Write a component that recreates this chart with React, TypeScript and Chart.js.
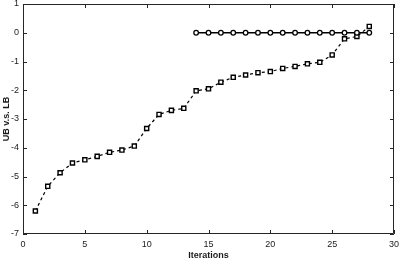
import React, { useEffect, useRef } from "react";
import { Chart, registerables } from "chart.js";

Chart.register(...registerables);

const iterationsUB: number[] = [1, 2, 3, 4, 5, 6, 7, 8, 9, 10, 11, 12, 13, 14, 15, 16, 17, 18, 19, 20, 21, 22, 23, 24, 25, 26, 27, 28];
const ubVsLb: number[] = [-6.2, -5.34, -4.87, -4.53, -4.42, -4.3, -4.16, -4.08, -3.94, -3.33, -2.84, -2.7, -2.63, -2.02, -1.95, -1.72, -1.55, -1.47, -1.39, -1.35, -1.24, -1.17, -1.08, -1.03, -0.77, -0.21, -0.13, 0.22];
const iterationsZero: number[] = [14, 15, 16, 17, 18, 19, 20, 21, 22, 23, 24, 25, 26, 27, 28];
const zeroLine: number[] = [0, 0, 0, 0, 0, 0, 0, 0, 0, 0, 0, 0, 0, 0, 0];

const xTicks: number[] = [0, 5, 10, 15, 20, 25, 30];
const yTicks: number[] = [1, 0, -1, -2, -3, -4, -5, -6, -7];

const AXIS_COLOR = "#262626";
const FONT = "'Liberation Sans', Arial, sans-serif";

const boxTicksPlugin = {
  id: "boxTicks",
  afterDatasetsDraw(chart: any) {
    const { ctx, chartArea, scales } = chart;
    const { left, right, top, bottom } = chartArea;
    const len = 4;
    ctx.save();
    ctx.strokeStyle = AXIS_COLOR;
    ctx.lineWidth = 1;
    ctx.beginPath();
    ctx.rect(left + 0.5, top + 0.5, right - left - 1, bottom - top - 1);
    xTicks.forEach((v) => {
      const px = Math.round(scales.x.getPixelForValue(v)) + 0.5;
      ctx.moveTo(px, bottom);
      ctx.lineTo(px, bottom - len);
      ctx.moveTo(px, top);
      ctx.lineTo(px, top + len);
    });
    yTicks.forEach((v) => {
      const py = Math.round(scales.y.getPixelForValue(v)) + 0.5;
      ctx.moveTo(left, py);
      ctx.lineTo(left + len, py);
      ctx.moveTo(right, py);
      ctx.lineTo(right - len, py);
    });
    ctx.stroke();
    ctx.restore();
  },
};

export default function App() {
  const canvasRef = useRef<HTMLCanvasElement | null>(null);

  useEffect(() => {
    document.body.style.margin = "0";
    const canvas = canvasRef.current;
    if (!canvas) return;
    const chart = new Chart(canvas, {
      type: "line",
      data: {
        datasets: [
          {
            label: "UB",
            data: iterationsZero.map((x, i) => ({ x, y: zeroLine[i] })),
            borderColor: "#000000",
            borderWidth: 1.4,
            pointStyle: "circle",
            pointRadius: 2.3,
            pointBorderWidth: 1.3,
            pointBorderColor: "#000000",
            pointBackgroundColor: "#ffffff",
          },
          {
            label: "UB v.s. LB",
            data: iterationsUB.map((x, i) => ({ x, y: ubVsLb[i] })),
            borderColor: "#000000",
            borderWidth: 1.2,
            borderDash: [3, 3],
            pointStyle: "rect",
            pointRadius: 2.9,
            pointBorderWidth: 1.4,
            pointBorderColor: "#000000",
            pointBackgroundColor: "#ffffff",
          },
        ],
      },
      options: {
        animation: false,
        responsive: false,
        maintainAspectRatio: false,
        layout: { padding: { top: 4, right: 5, left: 0, bottom: 0 }, autoPadding: false },
        plugins: { legend: { display: false }, tooltip: { enabled: false } },
        scales: {
          x: {
            type: "linear",
            min: 0,
            max: 30,
            afterBuildTicks: (scale: any) => {
              scale.ticks = xTicks.map((v) => ({ value: v }));
            },
            afterFit: (scale: any) => {
              scale.height = 27;
              scale.paddingLeft = 0;
              scale.paddingRight = 0;
            },
            grid: { display: false, drawTicks: false },
            border: { display: false },
            ticks: {
              color: "#1a1a1a",
              padding: 5,
              maxRotation: 0,
              font: { family: FONT, size: 9 },
            },
            title: {
              display: true,
              text: "Iterations",
              color: "#1a1a1a",
              padding: { top: 0, bottom: 0 },
              font: { family: FONT, size: 9, weight: "bold" },
            },
          },
          y: {
            type: "linear",
            min: -7,
            max: 1,
            afterBuildTicks: (scale: any) => {
              scale.ticks = yTicks.slice().reverse().map((v) => ({ value: v }));
            },
            afterFit: (scale: any) => {
              scale.width = 23;
              scale.paddingTop = 0;
              scale.paddingBottom = 0;
            },
            grid: { display: false, drawTicks: false },
            border: { display: false },
            ticks: {
              color: "#1a1a1a",
              padding: 4,
              font: { family: FONT, size: 9 },
            },
            title: {
              display: true,
              text: "UB v.s. LB",
              color: "#1a1a1a",
              padding: { top: 1, bottom: 0 },
              font: { family: FONT, size: 9, weight: "bold" },
            },
          },
        },
      },
      plugins: [boxTicksPlugin],
    } as any);
    return () => chart.destroy();
  }, []);

  return (
    <div style={{ width: 399, height: 261 }}>
      <canvas ref={canvasRef} width={399} height={261} style={{ display: "block" }} />
    </div>
  );
}
